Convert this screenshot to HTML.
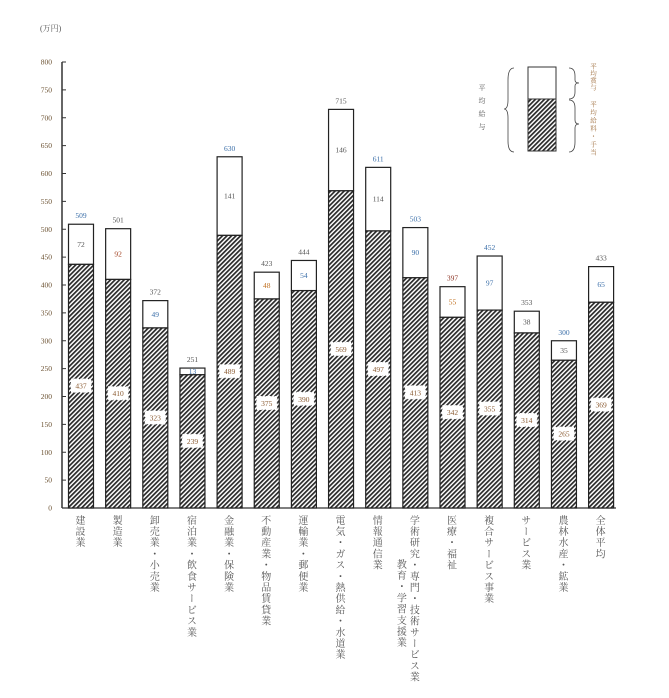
<!DOCTYPE html>
<html><head><meta charset="utf-8"><style>
body{margin:0;background:#fff;width:669px;height:698px;position:relative;overflow:hidden;font-family:"Liberation Serif","Noto Serif CJK SC",serif}
.v{position:absolute;writing-mode:vertical-rl;font-family:"Noto Serif CJK SC","Liberation Serif",serif;font-size:10px;line-height:11px;letter-spacing:1.2px;color:#555;white-space:nowrap}
</style></head><body>
<svg width="669" height="698" style="position:absolute;left:0;top:0" font-family="Liberation Serif, Noto Serif CJK SC, serif">
<defs>
<pattern id="h" width="3.2" height="3.2" patternUnits="userSpaceOnUse" patternTransform="rotate(45)">
<rect width="3.2" height="3.2" fill="#fff"/><rect width="1.7" height="3.2" fill="#2a2a2a"/>
</pattern>
</defs>
<text x="40" y="31" font-size="8" fill="#555">(万円)</text>
<g font-size="7.5" fill="#6a5030" text-anchor="end" id="ticks"></g>
<line x1="62" y1="62" x2="62" y2="508" stroke="#333" stroke-width="1.5"/>
<line x1="62" y1="508" x2="616" y2="508" stroke="#333" stroke-width="1.2"/>
<g id="bars"></g>
<rect x="528" y="67" width="28" height="32" fill="#fff" stroke="#333" stroke-width="1"/>
<rect x="528" y="99" width="28" height="52" fill="url(#h)" stroke="#333" stroke-width="1"/>
<path d="M514 68 Q508 68 508 80 L508 100 Q508 109 504 109 Q508 109 508 118 L508 141 Q508 152 514 152" fill="none" stroke="#444" stroke-width="0.8"/>
<path d="M569 68 Q575 68 575 76 L575 80 Q575 83 579 83 Q575 83 575 86 L575 92 Q575 99 569 99" fill="none" stroke="#444" stroke-width="0.8"/>
<path d="M569 100 Q575 100 575 108 L575 120 Q575 124 579 124 Q575 124 575 128 L575 142 Q575 152 569 152" fill="none" stroke="#444" stroke-width="0.8"/>
</svg>
<div class="v" style="left:478px;top:84px;font-size:7px;line-height:8px;letter-spacing:6px">平均給与</div>
<div class="v" style="left:589px;top:63px;font-size:6.5px;line-height:8px;letter-spacing:0.5px;color:#a07040">平均賞与</div>
<div class="v" style="left:589px;top:101px;font-size:6.5px;line-height:8px;letter-spacing:1.5px;color:#a07040">平均給料・手当</div>
<div id="labels"></div>
<script>
var d=[[509,437,72],[501,410,92],[372,323,49],[251,239,13],[630,489,141],[423,375,48],[444,390,54],[715,569,146],[611,497,114],[503,413,90],[397,342,55],[452,355,97],[353,314,38],[300,265,35],[433,369,65]];
var cols=["#3a6ea8","#555","#555","#555","#3a6ea8","#555","#555","#555","#3a6ea8","#3a6ea8","#8a3020","#3a6ea8","#555","#3a6ea8","#555"];
var tcols=["#555","#a04020","#3a6ea8","#3a6ea8","#555","#c07020","#3a6ea8","#555","#555","#3a6ea8","#c07020","#3a6ea8","#555","#555","#3a6ea8"];
function y(v){return 508-0.5575*v;}
var s="";
for(var i=0;i<=16;i++){var v=i*50,yy=y(v);s+='<text x="52" y="'+(yy+2.5)+'">'+v+'</text><line x1="62" x2="66" y1="'+yy+'" y2="'+yy+'" stroke="#333" stroke-width="1"/>';}
document.getElementById("ticks").innerHTML=s;
var b="";
for(var i=0;i<15;i++){
 var c=81+37.15*i,x=c-12.5,w=25,t=d[i][0],lo=d[i][1],yt=y(t),yl=y(lo);
 b+='<rect x="'+x+'" y="'+yt+'" width="'+w+'" height="'+(yl-yt)+'" fill="#fff" stroke="#222" stroke-width="1.2"/>';
 b+='<rect x="'+x+'" y="'+yl+'" width="'+w+'" height="'+(508-yl)+'" fill="url(#h)" stroke="#222" stroke-width="1.2"/>';
 b+='<text x="'+c+'" y="'+(yt-6)+'" font-size="7.5" text-anchor="middle" fill="'+cols[i]+'">'+t+'</text>';
 var ym=(yt+yl)/2;
 b+='<text x="'+c+'" y="'+(ym+2.5)+'" font-size="7.5" text-anchor="middle" fill="'+tcols[i]+'">'+d[i][2]+'</text>';
 var yb=(yl+508)/2;
 b+='<rect x="'+(c-10)+'" y="'+(yb-7)+'" width="20" height="13" fill="#fff" stroke="#fff" stroke-dasharray="2,1"/>';
 b+='<text x="'+c+'" y="'+(yb+2.5)+'" font-size="7.5" text-anchor="middle" fill="#8a5a30">'+lo+'</text>';
}
document.getElementById("bars").innerHTML=b;
var L=["建設業","製造業","卸売業・小売業","宿泊業・飲食サービス業","金融業・保険業","不動産業・物品賃貸業","運輸業・郵便業","電気・ガス・熱供給・水道業","情報通信業","学術研究・専門・技術サービス業","医療・福祉","複合サービス事業","サービス業","農林水産・鉱業","全体平均"];
var h="";
for(var i=0;i<15;i++){var c=81+37.15*i;h+='<div class="v" style="left:'+(c-6)+'px;top:515px">'+L[i]+'</div>';}
h+='<div class="v" style="left:'+(81+37.15*9-19)+'px;top:559px">教育・学習支援業</div>';
document.getElementById("labels").innerHTML=h;
</script>
</body></html>
